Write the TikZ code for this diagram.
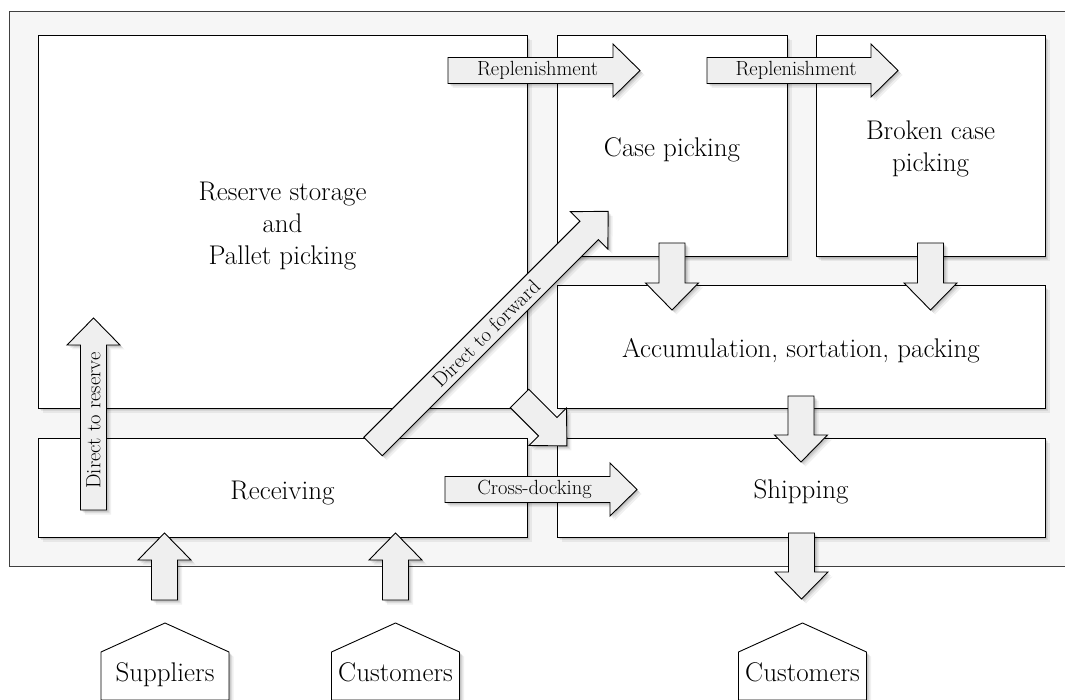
\documentclass[tikz,border=0pt]{standalone}
\usepackage{fontspec}
\usetikzlibrary{shadows}
\definecolor{bgfill}{HTML}{F6F6F6}
\definecolor{arrfill}{HTML}{EFEFEF}
\tikzset{
  softshadow/.style={
    general shadow={shadow xshift=1pt,shadow yshift=-1pt,fill=black,opacity=.08},
    general shadow={shadow xshift=2pt,shadow yshift=-2pt,fill=black,opacity=.08},
    general shadow={shadow xshift=3pt,shadow yshift=-3pt,fill=black,opacity=.07},
    general shadow={shadow xshift=4.5pt,shadow yshift=-4.5pt,fill=black,opacity=.06}},
  outerarea/.style={draw=black!75, fill=bgfill, line width=0.9pt},
  area/.style={draw=black, fill=white, line width=1pt, rectangle, inner sep=0pt, softshadow},
  blockarr/.style={draw=black, fill=arrfill, line width=0.9pt, line join=miter, softshadow},
  house/.style={draw=black, fill=white, line width=0.9pt, softshadow},
  biglabel/.style={font=\fontsize{27}{32.2}\selectfont, align=center, inner sep=0pt},
  arrlabel/.style={font=\fontsize{20.5}{24}\selectfont, inner sep=0pt, transform shape},
}
% #1 label node name, #2 tail coordinate, #3 direction angle, #4 length, #5 label
\newcommand\blockarrow[5]{%
  \begin{scope}[shift={(#2)}, rotate=#3]
    \draw[blockarr] (0,-13) -- ({#4-27},-13) -- ({#4-27},-26.5) -- (#4,0)
      -- ({#4-27},26.5) -- ({#4-27},13) -- (0,13) -- cycle;
    \node[arrlabel] (#1) at ({#4/2-6.5},0) {#5};
  \end{scope}}
% #1 name, #2 centre x, #3 label
\newcommand\warehouse[3]{%
  \draw[house] ({#2-64},700) -- ({#2-64},652) -- (#2,623) -- ({#2+64},652) -- ({#2+64},700) -- cycle;
  \node[biglabel, anchor=base] (#1) at (#2,681) {#3};}
\begin{document}
\begin{tikzpicture}[x=1pt,y=-1pt]
\useasboundingbox (0,0) rectangle (1065,700);
\clip (0,0) rectangle (1065,700);
\draw[outerarea] (9,11) rectangle (1090,566);

% areas
\node[area, minimum width=489pt, minimum height=372pt] (reserve) at (282.5,222) {};
\node[area, minimum width=230pt, minimum height=221pt] (case) at (672,146.5) {};
\node[area, minimum width=229pt, minimum height=221pt] (broken) at (930.5,146.5) {};
\node[area, minimum width=488pt, minimum height=122pt] (accum) at (801,347) {};
\node[area, minimum width=489pt, minimum height=99pt] (receiving) at (282.5,487.5) {};
\node[area, minimum width=488pt, minimum height=99pt] (shipping) at (801,487.5) {};

% area labels
\node[biglabel] (reservetext) at (282.5,225.9) {Reserve storage\\and\\Pallet picking};
\node[biglabel, anchor=base] (casetext) at (672,157) {Case picking};
\node[biglabel] (brokentext) at (930.5,148.9) {Broken case\\picking};
\node[biglabel, anchor=base] (acctext) at (801,358) {Accumulation, sortation, packing};
\node[biglabel, anchor=base] (rectext) at (282.5,499) {Receiving};
\node[biglabel, anchor=base] (shiptext) at (801,498) {Shipping};

% arrow tails
\coordinate (t-rep1) at (448,70.5);
\coordinate (t-rep2) at (707,70.5);
\coordinate (t-cross) at (445,489.5);
\coordinate (t-dres) at (93.5,510);
\coordinate (t-dfwd) at (373,446.5);
\coordinate (t-corner) at (519.5,398.5);
\coordinate (t-case) at (672,243);
\coordinate (t-broken) at (930.5,243);
\coordinate (t-acc) at (801,396);
\coordinate (t-ship) at (801.5,533);
\coordinate (t-sup) at (164.5,600);
\coordinate (t-cust) at (395.5,600);

% block arrows
\blockarrow{a-rep1}{t-rep1}{0}{192}{Replenishment}
\blockarrow{a-rep2}{t-rep2}{0}{191}{Replenishment}
\blockarrow{a-cross}{t-cross}{0}{192}{Cross-docking}
\blockarrow{a-dres}{t-dres}{90}{192}{Direct to reserve}
\blockarrow{a-dfwd}{t-dfwd}{45}{332.6}{Direct to forward}
\blockarrow{a-corner}{t-corner}{-45}{67}{}
\blockarrow{a-case}{t-case}{-90}{67}{}
\blockarrow{a-broken}{t-broken}{-90}{67}{}
\blockarrow{a-acc}{t-acc}{-90}{66}{}
\blockarrow{a-ship}{t-ship}{-90}{66}{}
\blockarrow{a-sup}{t-sup}{90}{67}{}
\blockarrow{a-cust}{t-cust}{90}{67}{}

% outside parties
\warehouse{suppliers}{165}{Suppliers}
\warehouse{customers-in}{395.5}{Customers}
\warehouse{customers-out}{802.5}{Customers}
\end{tikzpicture}
\end{document}
